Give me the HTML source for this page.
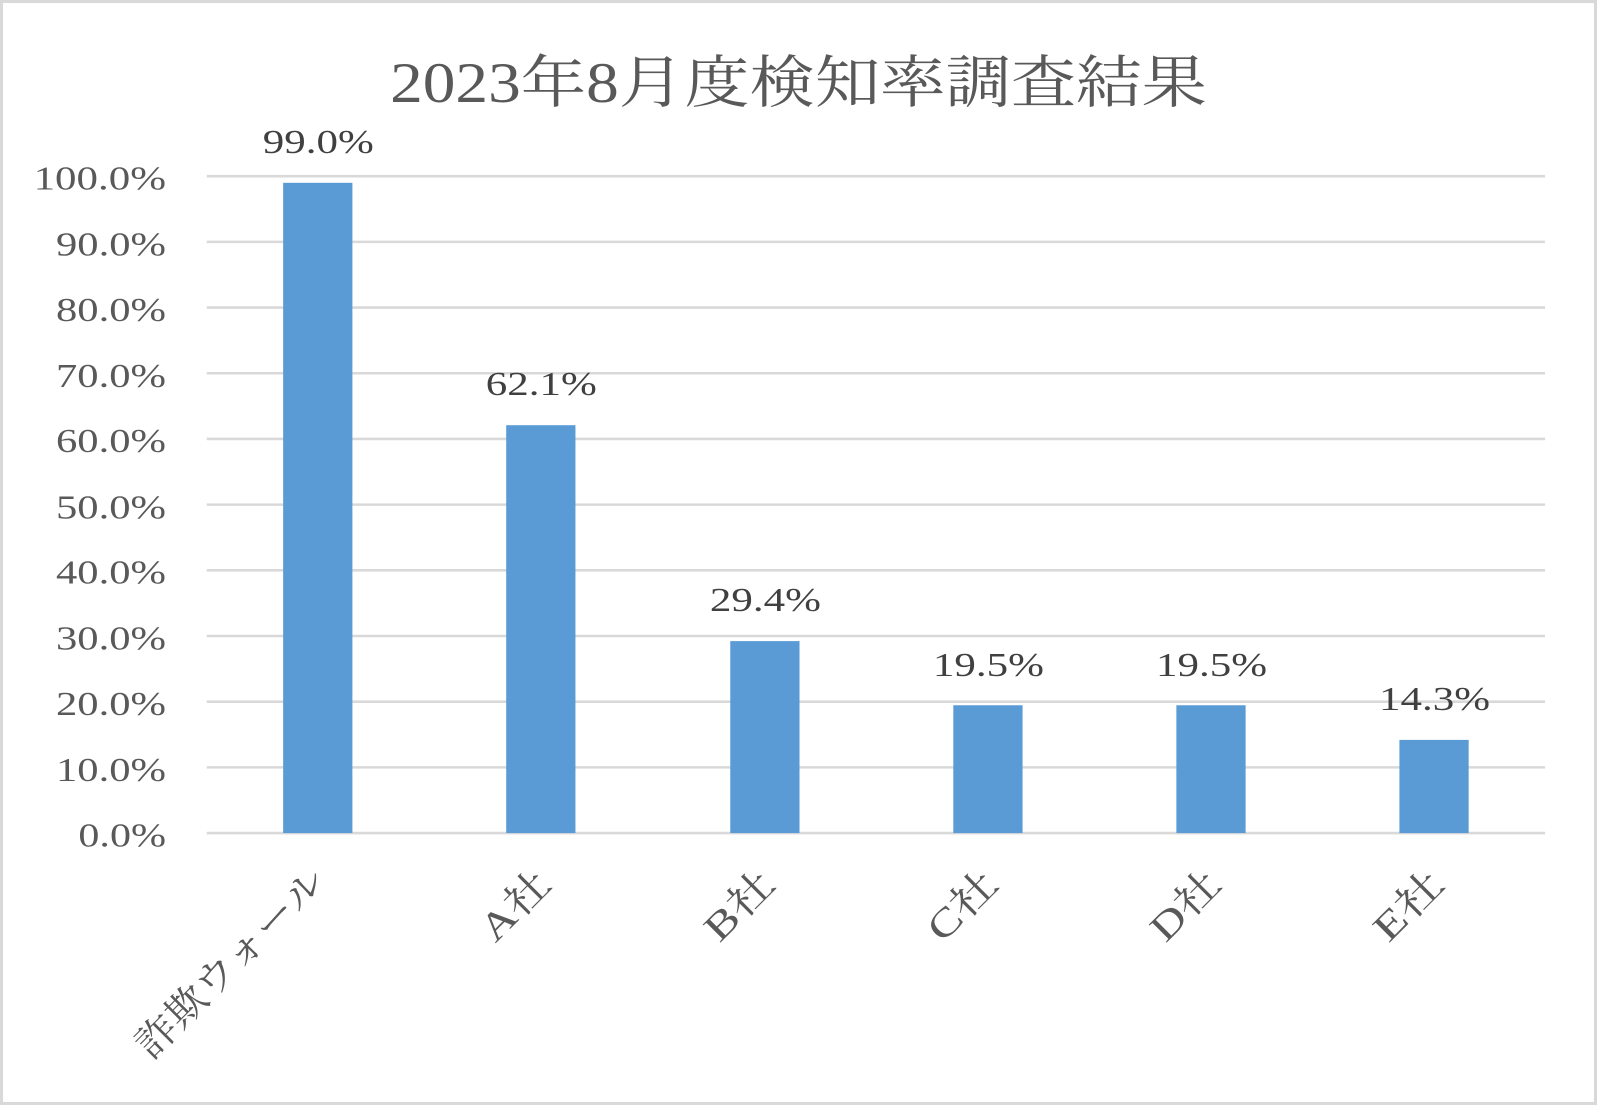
<!DOCTYPE html>
<html><head><meta charset="utf-8"><style>
html,body{margin:0;padding:0;background:#fff;}
svg{display:block;}
text{font-family:"Liberation Serif","Noto Serif CJK JP",serif;fill:#595959;}
</style></head><body>
<svg width="1597" height="1105" viewBox="0 0 1568 1085" preserveAspectRatio="none" xmlns="http://www.w3.org/2000/svg">
<rect x="1.5" y="1.5" width="1565" height="1082" fill="#fff" stroke="#d9d9d9" stroke-width="3"/>
<text x="383" y="100" font-size="56" textLength="802" lengthAdjust="spacingAndGlyphs">2023年8月度検知率調査結果</text>
<g stroke="#d9d9d9" stroke-width="2.5">
<line x1="203" x2="1517" y1="173" y2="173"/>
<line x1="203" x2="1517" y1="237.5" y2="237.5"/>
<line x1="203" x2="1517" y1="302" y2="302"/>
<line x1="203" x2="1517" y1="366.5" y2="366.5"/>
<line x1="203" x2="1517" y1="431" y2="431"/>
<line x1="203" x2="1517" y1="495.5" y2="495.5"/>
<line x1="203" x2="1517" y1="560" y2="560"/>
<line x1="203" x2="1517" y1="624.5" y2="624.5"/>
<line x1="203" x2="1517" y1="689" y2="689"/>
<line x1="203" x2="1517" y1="753.5" y2="753.5"/>
<line x1="203" x2="1517" y1="818" y2="818"/>
</g>
<g font-size="33">
<text x="33" y="186" textLength="130" lengthAdjust="spacingAndGlyphs">100.0%</text>
<text x="55" y="251" textLength="108" lengthAdjust="spacingAndGlyphs">90.0%</text>
<text x="55" y="315" textLength="108" lengthAdjust="spacingAndGlyphs">80.0%</text>
<text x="55" y="380" textLength="108" lengthAdjust="spacingAndGlyphs">70.0%</text>
<text x="55" y="444" textLength="108" lengthAdjust="spacingAndGlyphs">60.0%</text>
<text x="55" y="509" textLength="108" lengthAdjust="spacingAndGlyphs">50.0%</text>
<text x="55" y="573" textLength="108" lengthAdjust="spacingAndGlyphs">40.0%</text>
<text x="55" y="638" textLength="108" lengthAdjust="spacingAndGlyphs">30.0%</text>
<text x="55" y="702" textLength="108" lengthAdjust="spacingAndGlyphs">20.0%</text>
<text x="55" y="767" textLength="108" lengthAdjust="spacingAndGlyphs">10.0%</text>
<text x="77" y="831" textLength="86" lengthAdjust="spacingAndGlyphs">0.0%</text>
</g>
<g fill="#5b9bd5">
<rect x="278" y="179.5" width="68" height="638.5"/>
<rect x="497" y="417.5" width="68" height="400.5"/>
<rect x="717" y="629.5" width="68" height="188.5"/>
<rect x="936" y="692.5" width="68" height="125.5"/>
<rect x="1155" y="692.5" width="68" height="125.5"/>
<rect x="1374" y="726.5" width="68" height="91.5"/>
</g>
<g font-size="33">
<text x="258" y="150" textLength="109" lengthAdjust="spacingAndGlyphs" style="fill:#404040">99.0%</text>
<text x="477" y="388" textLength="109" lengthAdjust="spacingAndGlyphs" style="fill:#404040">62.1%</text>
<text x="697" y="600" textLength="109" lengthAdjust="spacingAndGlyphs" style="fill:#404040">29.4%</text>
<text x="916" y="664" textLength="109" lengthAdjust="spacingAndGlyphs" style="fill:#404040">19.5%</text>
<text x="1135" y="664" textLength="109" lengthAdjust="spacingAndGlyphs" style="fill:#404040">19.5%</text>
<text x="1354" y="697" textLength="109" lengthAdjust="spacingAndGlyphs" style="fill:#404040">14.3%</text>
</g>
<g font-size="38" text-anchor="end">
<text transform="translate(322,868) rotate(-45)" textLength="245" lengthAdjust="spacingAndGlyphs">詐欺ウォール</text>
<text transform="translate(543,870) rotate(-45)" textLength="80" lengthAdjust="spacingAndGlyphs">A社</text>
<text transform="translate(763,870) rotate(-45)" textLength="80" lengthAdjust="spacingAndGlyphs">B社</text>
<text transform="translate(982,870) rotate(-45)" textLength="80" lengthAdjust="spacingAndGlyphs">C社</text>
<text transform="translate(1201,870) rotate(-45)" textLength="80" lengthAdjust="spacingAndGlyphs">D社</text>
<text transform="translate(1420,870) rotate(-45)" textLength="80" lengthAdjust="spacingAndGlyphs">E社</text>
</g>
</svg>
</body></html>
